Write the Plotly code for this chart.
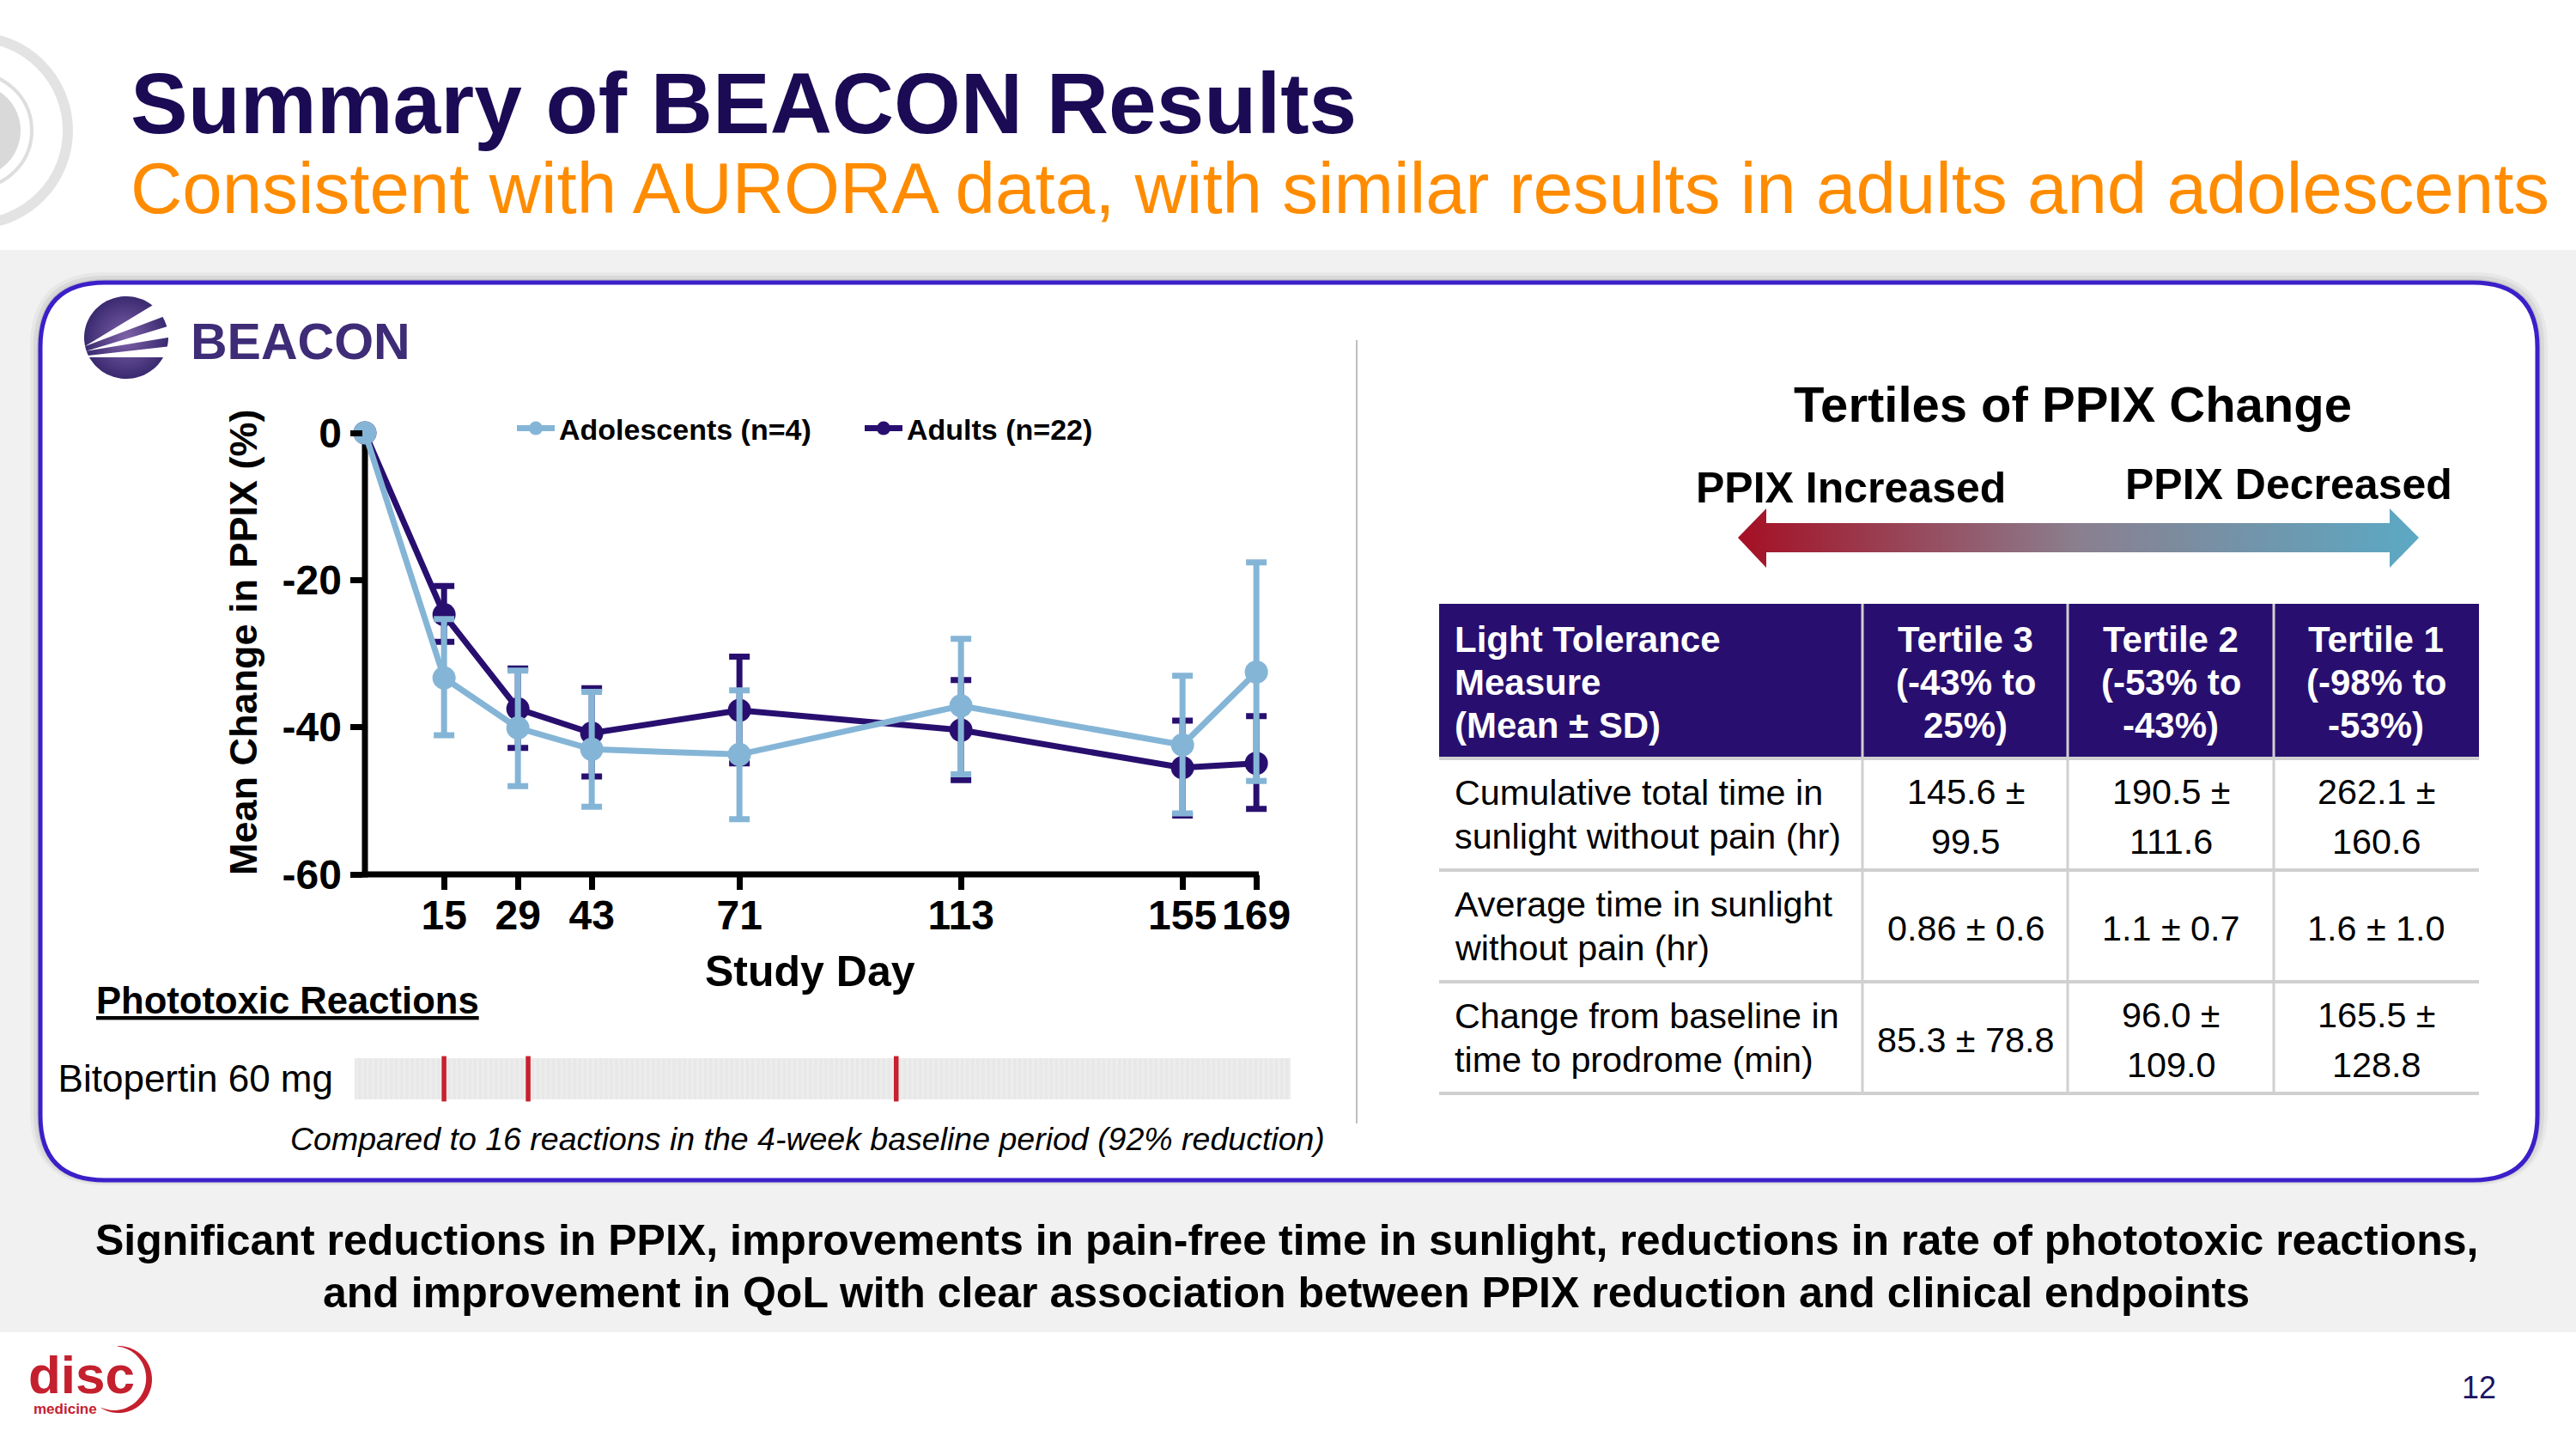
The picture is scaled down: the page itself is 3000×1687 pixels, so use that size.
import numpy as np
import plotly.graph_objects as go

W, H = 3000, 1687
FONT = "Liberation Sans"
NAVY = "#1B0B55"
PURPLE = "#280F6F"
LIGHT = "#85B5D6"
GRID = "#D0D0D0"

# PPIX chart values
study_days = [0, 15, 29, 43, 71, 113, 155, 169]
adults_mean = [0, -24.7, -37.5, -40.8, -37.7, -40.4, -45.5, -44.9]
adults_upper = [0, -20.8, -32.0, -34.7, -30.4, -33.6, -39.1, -38.5]
adults_lower = [0, -28.4, -42.8, -46.7, -44.9, -47.2, -52.0, -51.1]
adolescents_mean = [0, -33.3, -40.1, -43.0, -43.7, -37.1, -42.4, -32.5]
adolescents_upper = [0, -25.3, -32.3, -35.2, -35.0, -28.0, -33.0, -17.6]
adolescents_lower = [0, -41.1, -48.0, -50.8, -52.5, -46.4, -51.7, -47.3]
x_ticks = [15, 29, 43, 71, 113, 155, 169]
y_ticks = [0, -20, -40, -60]

# phototoxic reactions strip
strip_window = [0, 178]
reaction_days = [17, 33, 103]

# table, one list of lines per cell
table_header = [
    ["Light Tolerance", "Measure", "(Mean ± SD)"],
    ["Tertile 3", "(-43% to", "25%)"],
    ["Tertile 2", "(-53% to", "-43%)"],
    ["Tertile 1", "(-98% to", "-53%)"],
]
table_rows = [
    [["Cumulative total time in", "sunlight without pain (hr)"], ["145.6 ±", "99.5"], ["190.5 ±", "111.6"], ["262.1 ±", "160.6"]],
    [["Average time in sunlight", "without pain (hr)"], ["0.86 ± 0.6"], ["1.1 ± 0.7"], ["1.6 ± 1.0"]],
    [["Change from baseline in", "time to prodrome (min)"], ["85.3 ± 78.8"], ["96.0 ±", "109.0"], ["165.5 ±", "128.8"]],
]


def rounded_rect(x0, y0, x1, y1, r):
    return (f"M{x0 + r},{y0} L{x1 - r},{y0} Q{x1},{y0} {x1},{y0 + r} L{x1},{y1 - r} Q{x1},{y1} {x1 - r},{y1} "
            f"L{x0 + r},{y1} Q{x0},{y1} {x0},{y1 - r} L{x0},{y0 + r} Q{x0},{y0} {x0 + r},{y0} Z")


def errs(mean, upper, lower):
    plus = [round(u - m, 1) for u, m in zip(upper, mean)]
    minus = [round(m - l, 1) for m, l in zip(mean, lower)]
    return plus, minus


fig = go.Figure()
shapes = []
notes = []


def rect(x0, y0, x1, y1, color):
    shapes.append(dict(type="rect", xref="x", yref="y", x0=x0, y0=y0, x1=x1, y1=y1, fillcolor=color,
                       line_width=0, layer="below"))


def line(x0, y0, x1, y1, color, width):
    shapes.append(dict(type="line", xref="x", yref="y", x0=x0, y0=y0, x1=x1, y1=y1,
                       line=dict(color=color, width=width), layer="below"))


def circle(cx, cy, r, fill, outline=None, width=0):
    shapes.append(dict(type="circle", xref="x", yref="y", x0=cx - r, y0=cy - r, x1=cx + r, y1=cy + r,
                       fillcolor=fill, line=dict(color=outline or fill, width=width), layer="below"))


def text(x, y, s, size, color="#000000", anchor="center", angle=0):
    notes.append(dict(xref="x", yref="y", x=x, y=y, text=s, showarrow=False, xanchor=anchor, yanchor="middle",
                      textangle=angle, borderpad=0, font=dict(family=FONT, size=size, color=color)))


def polygon(xs, ys, color=None, gradient=None):
    fig.add_trace(go.Scatter(x=xs, y=ys, xaxis="x", yaxis="y", mode="none", fill="toself", fillcolor=color,
                             fillgradient=gradient, showlegend=False, hoverinfo="skip"))


# page background
rect(0, 291, W, 1551, "#F1F1F1")
for grow, alpha in [(12, 0.04), (8, 0.06), (4, 0.09)]:
    shapes.append(dict(type="path", xref="x", yref="y", layer="below", line_width=0, fillcolor=f"rgba(0,0,0,{alpha})",
                       path=rounded_rect(47 - grow, 329 - grow, 2955 + grow, 1374 + grow // 2, 75 + grow)))
shapes.append(dict(type="path", xref="x", yref="y", layer="below", fillcolor="#FFFFFF",
                   line=dict(color="#3B1FC9", width=5), path=rounded_rect(47, 329, 2955, 1374, 75)))
line(1580, 396, 1580, 1308, "#BFBFBF", 2)

# rings behind the title
circle(-30, 152, 109, "rgba(0,0,0,0)", "#E3E3E3", 12)
circle(-30, 152, 67, "rgba(0,0,0,0)", "#DEDEDE", 4)
circle(-30, 152, 54, "#D9D9D9")

# title
text(151, 120, "<b>Summary of BEACON Results</b>", 100, NAVY, "left")
text(151, 219, "Consistent with AURORA data, with similar results in adults and adolescents", 83.5, "#FF8C00", "left")

# BEACON logo
t = np.linspace(0, 2 * np.pi, 90)
polygon(147 + 49 * np.cos(t), 393 + 48 * np.sin(t), gradient=dict(
    type="radial", colorscale=[[0, "#7E62A8"], [1, "#3A2A70"]]))
for wedge in [[(258, 1210), (480, 1055), (530, 1080), (500, 1105)],
              [(262, 1226), (510, 1140), (530, 1140), (530, 1175), (515, 1178)],
              [(262, 1243), (515, 1210), (530, 1210), (530, 1248), (265, 1248)]]:
    polygon([p[0] / 2.613 for p in wedge], [p[1] / 3 for p in wedge], color="#FFFFFF")
text(221, 398, "<b>BEACON</b>", 59, "#3E2C77", "left")

# disc medicine logo
a = np.radians(np.linspace(-92, 122, 50))
taper = 0.5 + 6.5 * np.cos(np.radians(np.linspace(-90, 90, 50)))
polygon(np.r_[138 + 39 * np.cos(a), (138 + (39 - taper) * np.cos(a))[::-1]],
        np.r_[1606 + 39 * np.sin(a), (1606 + (39 - taper) * np.sin(a))[::-1]], color="#C4202E")
text(32, 1600, "<b>disc</b>", 62, "#C4202E", "left")
text(38, 1640, "<b>medicine</b>", 17, "#C4202E", "left")

# arrow
polygon([2024, 2057, 2057, 2783, 2783, 2817, 2783, 2783, 2057, 2057, 2024],
        [626, 592, 609, 609, 592, 626, 661, 643, 643, 661, 626],
        gradient=dict(type="horizontal", colorscale=[[0, "#A50F24"], [0.5, "#8A7F8F"], [1, "#5BA9C4"]]))
text(2414, 470, "<b>Tertiles of PPIX Change</b>", 58)
text(1974, 568, "<b>PPIX Increased</b>", 50, anchor="left")
text(2474, 564, "<b>PPIX Decreased</b>", 50, anchor="left")

# table
col_edges = [1676, 2169, 2408, 2648, 2887]
col_centres = [2289, 2528, 2767]
rect(col_edges[0], 703, col_edges[-1], 883, PURPLE)
for j, cell in enumerate(table_header):
    for line_y, s in zip([744, 794, 844], cell):
        if j == 0:
            text(1693, line_y, f"<b>{s}</b>", 42, "#FFFFFF", "left")
        else:
            text(col_centres[j - 1], line_y, f"<b>{s}</b>", 42, "#FFFFFF")
row_lines = [883, 1013, 1143, 1273]
for ly in row_lines:
    line(col_edges[0], ly, col_edges[-1], ly, GRID, 4)
for xe in col_edges[1:-1]:
    line(xe, 703, xe, 1273, GRID, 3)
for i, row in enumerate(table_rows):
    mid = (row_lines[i] + row_lines[i + 1]) / 2
    for j, cell in enumerate(row):
        if j == 0:
            for k, s in enumerate(cell):
                text(1693, mid + (k - 0.5) * 51, s, 41.3, anchor="left")
        else:
            for k, s in enumerate(cell):
                text(col_centres[j - 1], mid + 3 + (k - (len(cell) - 1) / 2) * 58, s, 41.3)

# bottom notes
text(1498, 1444, "<b>Significant reductions in PPIX, improvements in pain-free time in sunlight, reductions in rate of phototoxic reactions,</b>", 50)
text(1498, 1505, "<b>and improvement in QoL with clear association between PPIX reduction and clinical endpoints</b>", 50)
text(2887, 1615, "12", 36, "#1B1464")

# chart labels and axis lines
text(283, 748, "<b>Mean Change in PPIX (%)</b>", 45, angle=-90)
text(943, 1131, "<b>Study Day</b>", 50)
text(111, 1165, "<b><u>Phototoxic Reactions</u></b>", 43.6, anchor="left")
text(940, 1326, "<i>Compared to 16 reactions in the 4-week baseline period (92% reduction)</i>", 37.5)
line(425, 500, 425, 1021.5, "#000000", 7)
line(421.5, 1018, 1466, 1018, "#000000", 7)

# PPIX chart
plus, minus = errs(adults_mean, adults_upper, adults_lower)
fig.add_trace(go.Scatter(x=study_days, y=adults_mean, name="Adults (n=22)", mode="lines+markers", xaxis="x2", yaxis="y2",
                         legendrank=2, cliponaxis=False,
                         line=dict(color=PURPLE, width=7), marker=dict(color=PURPLE, size=27),
                         error_y=dict(type="data", symmetric=False, array=plus, arrayminus=minus,
                                      color=PURPLE, thickness=7, width=12)))
plus, minus = errs(adolescents_mean, adolescents_upper, adolescents_lower)
fig.add_trace(go.Scatter(x=study_days, y=adolescents_mean, name="Adolescents (n=4)", mode="lines+markers", xaxis="x2", yaxis="y2",
                         legendrank=1, cliponaxis=False,
                         line=dict(color=LIGHT, width=7), marker=dict(color=LIGHT, size=27),
                         error_y=dict(type="data", symmetric=False, array=plus, arrayminus=minus,
                                      color=LIGHT, thickness=7, width=12)))

# reactions strip
fig.add_trace(go.Bar(x=[sum(strip_window) / 2], y=[1], width=[strip_window[1] - strip_window[0]], xaxis="x3", yaxis="y3",
                     showlegend=False, hoverinfo="skip",
                     marker=dict(color="#E6E6E6", line_width=0,
                                 pattern=dict(shape="|", bgcolor="#E8E8E8", fgcolor="#F4F4F4", size=6.1, solidity=0.35))))
fig.add_trace(go.Bar(x=reaction_days, y=[1.1] * len(reaction_days), base=-0.05, width=0.9, xaxis="x3", yaxis="y3",
                     showlegend=False, marker=dict(color="#C8202E", line_width=0)))

px_per_day = (1463 - 517) / 154
fig.update_layout(
    width=W, height=H, margin=dict(l=0, r=0, t=0, b=0), paper_bgcolor="#FFFFFF", plot_bgcolor="rgba(0,0,0,0)",
    font=dict(family=FONT, color="#000000"), shapes=shapes, annotations=notes, barmode="overlay",
    xaxis=dict(domain=[0, 1], range=[0, W], visible=False, fixedrange=True, automargin=False),
    yaxis=dict(domain=[0, 1], range=[H, 0], visible=False, fixedrange=True, automargin=False),
    xaxis2=dict(domain=[(425 - 0.4 * px_per_day) / W, (425 + 172 * px_per_day) / W], range=[-0.4, 172], anchor="y2",
                showgrid=False, zeroline=False, automargin=False, showline=False,
                ticks="outside", ticklen=17, tickwidth=7, ticklabelstandoff=-12,
                tickcolor="#000000", tickmode="array", tickvals=x_ticks, ticktext=[str(v) for v in x_ticks], tickangle=0,
                tickfont=dict(family=FONT, size=48, weight=700)),
    yaxis2=dict(domain=[(H - 1018) / H, (H - 504) / H], range=[-60, 0], anchor="x2", showgrid=False, zeroline=False,
                automargin=False, showline=False, ticks="outside", ticklen=14, tickwidth=7,
                tickcolor="#000000", tickmode="array", tickvals=y_ticks, ticktext=[str(v) for v in y_ticks],
                tickfont=dict(family=FONT, size=48, weight=700)),
    xaxis3=dict(domain=[413 / W, 1503 / W], range=strip_window, anchor="y3", visible=False, fixedrange=True, automargin=False),
    yaxis3=dict(domain=[(H - 1283) / H, (H - 1229) / H], range=[-0.0625, 1.0625], anchor="x3", showgrid=False, automargin=False,
                zeroline=False, showline=False, ticks="", tickmode="array", tickvals=[0.5], ticktext=["Bitopertin 60 mg"],
                ticklabelstandoff=24, tickfont=dict(family=FONT, size=44)),
    legend=dict(orientation="h", x=597 / W, y=(H - 470) / H, xanchor="left", yanchor="top", bgcolor="rgba(0,0,0,0)",
                itemwidth=44, font=dict(family=FONT, size=34, weight=700), entrywidth=346, entrywidthmode="pixels"),
)

fig.write_html("out.html", config={"displayModeBar": False}, post_script="document.body.style.margin='0'")
